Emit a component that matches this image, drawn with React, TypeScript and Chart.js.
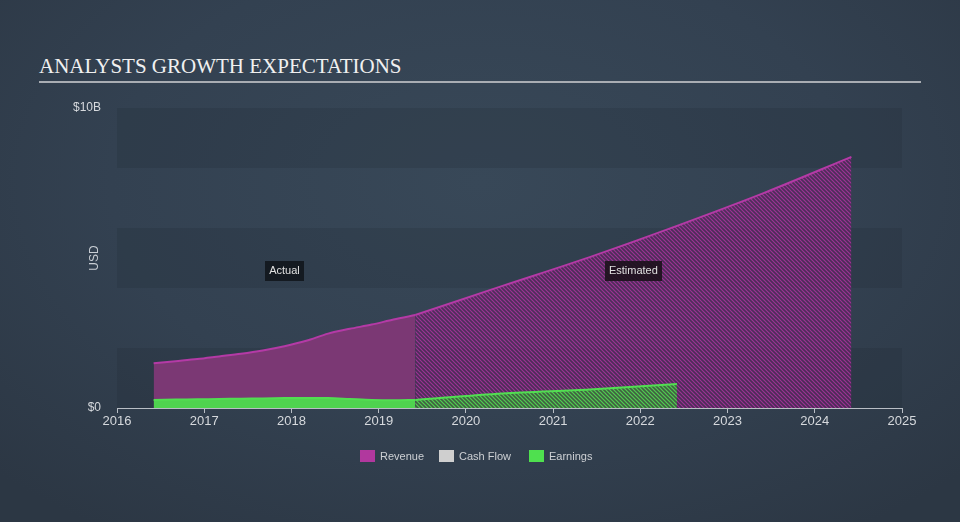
import React, { useEffect, useRef } from "react";
import { Chart, registerables } from "chart.js";

Chart.register(...registerables);

const revenueActualX = [2016.42, 2016.67, 2016.92, 2017.17, 2017.42, 2017.67, 2017.92, 2018.17, 2018.42, 2018.67, 2018.92, 2019.17, 2019.42];
const revenueActual = [1.49, 1.56, 1.63, 1.72, 1.81, 1.92, 2.06, 2.24, 2.48, 2.64, 2.78, 2.95, 3.1];
const revenueEstX = [2019.42, 2020.42, 2021.42, 2022.42, 2023.42, 2024.42];
const revenueEst = [3.1, 4.07, 5.03, 6.07, 7.17, 8.37];
const earningsActual = [0.27, 0.28, 0.29, 0.3, 0.31, 0.32, 0.33, 0.33, 0.33, 0.3, 0.27, 0.26, 0.27];
const earningsEstX = [2019.42, 2020.42, 2021.42, 2022.42];
const earningsEst = [0.27, 0.48, 0.62, 0.8];
const yTicks = [0, 10];
const yTickLabels = ["$0", "$10B"];
const xMin = 2016;
const xMax = 2025;

const FONT = "'Liberation Sans', Arial, sans-serif";

function hatch(bg: string, line: string) {
  const c = document.createElement("canvas");
  c.width = 4;
  c.height = 4;
  const g = c.getContext("2d")!;
  g.fillStyle = bg;
  g.fillRect(0, 0, 4, 4);
  g.strokeStyle = line;
  g.lineWidth = 1.2;
  g.beginPath();
  g.moveTo(-1, -1);
  g.lineTo(5, 5);
  g.moveTo(-1, 3);
  g.lineTo(1, 5);
  g.moveTo(3, -1);
  g.lineTo(5, 1);
  g.stroke();
  return g.createPattern(c, "repeat")!;
}

const pts = (xs: number[], ys: number[]) => xs.map((x, i) => ({ x, y: ys[i] }));

export default function App() {
  const ref = useRef<HTMLCanvasElement>(null);

  useEffect(() => {
    document.body.style.margin = "0";
    const ctx = ref.current!.getContext("2d")!;

    const bandsPlugin = {
      id: "bands",
      beforeDatasetsDraw(chart: any) {
        const { ctx, chartArea, scales } = chart;
        const y = scales.y;
        ctx.save();
        ctx.fillStyle = "rgba(30,40,52,0.2)";
        [[0, 2], [4, 6], [8, 10]].forEach(([a, b]) => {
          const top = y.getPixelForValue(b);
          const bot = y.getPixelForValue(a);
          ctx.fillRect(chartArea.left, top, chartArea.right - chartArea.left, bot - top);
        });
        ctx.restore();
      },
    };

    const labelsPlugin = {
      id: "labels",
      afterDatasetsDraw(chart: any) {
        const { ctx, scales, chartArea } = chart;
        ctx.save();
        ctx.translate(95, (chartArea.top + chartArea.bottom) / 2);
        ctx.rotate(-Math.PI / 2);
        ctx.fillStyle = "#c9ced4";
        ctx.font = `12px ${FONT}`;
        ctx.textAlign = "center";
        ctx.textBaseline = "middle";
        ctx.fillText("USD", 0, 0);
        ctx.restore();

        const box = (text: string, xv: number, yv: number, bg: string) => {
          const px = scales.x.getPixelForValue(xv);
          const py = scales.y.getPixelForValue(yv);
          ctx.save();
          ctx.font = `11px ${FONT}`;
          const w = ctx.measureText(text).width + 8;
          const h = 20;
          ctx.fillStyle = bg;
          ctx.fillRect(Math.round(px - w / 2), Math.round(py - h / 2), Math.round(w), h);
          ctx.fillStyle = "#e0e0e0";
          ctx.textAlign = "center";
          ctx.textBaseline = "middle";
          ctx.fillText(text, px, py + 0.5);
          ctx.restore();
        };
        box("Actual", (revenueActualX[0] + revenueActualX[revenueActualX.length - 1]) / 2, 4.57, "rgba(18,24,30,0.92)");
        box("Estimated", (revenueEstX[0] + revenueEstX[revenueEstX.length - 1]) / 2, 4.57, "rgba(28,18,28,0.9)");
      },
    };

    const revHatch = hatch("rgba(85,40,92,0.75)", "rgba(178,52,165,0.8)");
    const earnHatch = hatch("rgba(60,110,60,0.8)", "rgba(80,215,80,0.95)");

    const chart = new Chart(ctx, {
      type: "line",
      data: {
        datasets: [
          {
            label: "Earnings",
            data: pts(revenueActualX, earningsActual),
            borderColor: "#52de52",
            backgroundColor: "#4fd34f",
            borderWidth: 2,
            fill: "origin",
            pointRadius: 0,
            tension: 0.3,
            order: 1,
          },
          {
            label: "Earnings Est",
            data: pts(earningsEstX, earningsEst),
            borderColor: "#52de52",
            backgroundColor: earnHatch,
            borderWidth: 2,
            fill: "origin",
            pointRadius: 0,
            tension: 0.3,
            order: 2,
          },
          {
            label: "Revenue",
            data: pts(revenueActualX, revenueActual),
            borderColor: "#b43aa6",
            backgroundColor: "#7b3874",
            borderWidth: 2,
            fill: "origin",
            pointRadius: 0,
            tension: 0.3,
            order: 3,
          },
          {
            label: "Revenue Est",
            data: pts(revenueEstX, revenueEst),
            borderColor: "#b43aa6",
            backgroundColor: revHatch,
            borderWidth: 2,
            fill: "origin",
            pointRadius: 0,
            tension: 0.3,
            order: 4,
          },
        ],
      },
      options: {
        animation: false,
        responsive: false,
        maintainAspectRatio: false,
        layout: { padding: { top: 108, right: 58, left: 0, bottom: 0 } },
        plugins: { legend: { display: false }, tooltip: { enabled: false } },
        scales: {
          x: {
            type: "linear",
            min: xMin,
            max: xMax,
            afterFit: (s: any) => {
              s.height = 522 - 408;
            },
            afterBuildTicks: (s: any) => {
              const t = [];
              for (let v = xMin; v <= xMax; v++) t.push({ value: v });
              s.ticks = t;
            },
            ticks: {
              color: "#d6d9dd",
              font: { family: FONT, size: 13 },
              padding: 1,
              maxRotation: 0,
              callback: (v: any) => String(v),
            },
            grid: { drawOnChartArea: false, drawTicks: true, tickLength: 5, color: "#b9bec5" },
            border: { display: true, color: "#b9bec5", width: 1 },
          },
          y: {
            min: 0,
            max: 10,
            afterFit: (s: any) => {
              s.width = 117;
            },
            afterBuildTicks: (s: any) => {
              s.ticks = yTicks.map((v) => ({ value: v }));
            },
            ticks: {
              color: "#d6d9dd",
              font: { family: FONT, size: 12 },
              padding: 8,
              callback: (v: any) => yTickLabels[yTicks.indexOf(Number(v))],
            },
            grid: { display: false },
            border: { display: false },
          },
        },
      },
      plugins: [bandsPlugin, labelsPlugin],
    });
    return () => chart.destroy();
  }, []);

  const legend = [
    { label: "Revenue", color: "#b1389e", x: 360 },
    { label: "Cash Flow", color: "#cfcfcf", x: 439 },
    { label: "Earnings", color: "#4fe04f", x: 529 },
  ];

  return (
    <div
      style={{
        position: "relative",
        width: 960,
        height: 522,
        overflow: "hidden",
        background: "radial-gradient(ellipse 70% 80% at 50% 35%, #384858 0%, #334151 55%, #2c3744 100%)",
      }}
    >
      <div
        style={{
          position: "absolute",
          left: 39,
          top: 54,
          fontFamily: "'Liberation Serif', 'Times New Roman', serif",
          fontSize: 21,
          color: "#f0f0f0",
          whiteSpace: "nowrap",
          lineHeight: "24px",
        }}
      >
        ANALYSTS GROWTH EXPECTATIONS
      </div>
      <div style={{ position: "absolute", left: 39, top: 81, width: 882, height: 2, background: "#a9adb3" }} />
      <canvas ref={ref} width={960} height={522} style={{ position: "absolute", left: 0, top: 0 }} />
      {legend.map((l) => (
        <div key={l.label} style={{ position: "absolute", left: l.x, top: 450, display: "flex", alignItems: "center" }}>
          <div style={{ width: 15, height: 12, background: l.color }} />
          <span style={{ marginLeft: 5, fontFamily: FONT, fontSize: 11, color: "#cdd0d4", lineHeight: "12px" }}>{l.label}</span>
        </div>
      ))}
    </div>
  );
}
